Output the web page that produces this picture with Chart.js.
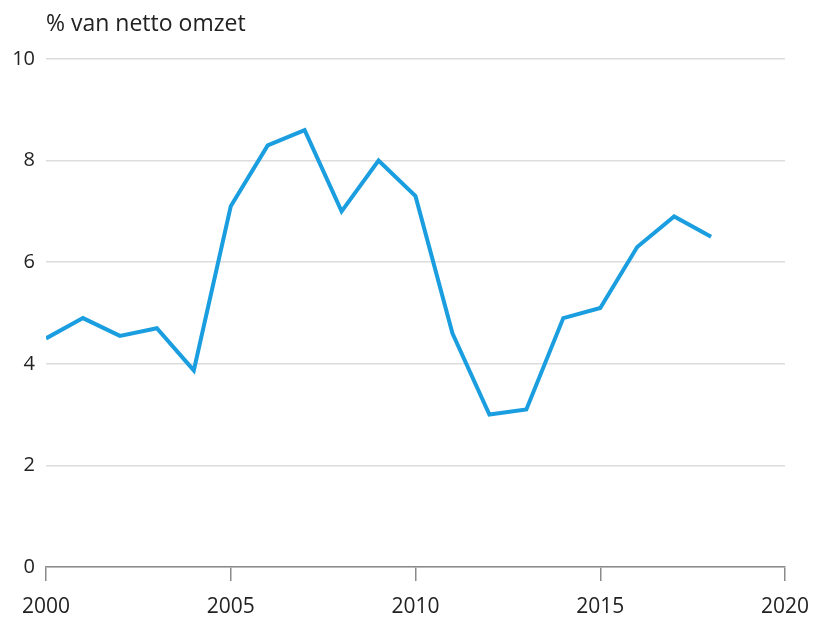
<!DOCTYPE html>
<html>
<head>
<meta charset="utf-8">
<script src="https://cdn.jsdelivr.net/npm/chart.js@4"></script>
<style>
  html, body { margin: 0; padding: 0; background: #fff; }
  #wrap { width: 815px; height: 619px; position: relative; }
</style>
</head>
<body>
<div id="wrap"><canvas id="grafiek"></canvas></div>
<script>
// jaren en waarden (% van netto omzet)
var jaren = [2000, 2001, 2002, 2003, 2004, 2005, 2006, 2007, 2008, 2009,
             2010, 2011, 2012, 2013, 2014, 2015, 2016, 2017, 2018];
var waarden = [4.5, 4.9, 4.55, 4.7, 3.87, 7.1, 8.3, 8.6, 7.0, 8.0,
               7.3, 4.6, 3.0, 3.1, 4.9, 5.1, 6.3, 6.9, 6.5];
var xTicks = [2000, 2005, 2010, 2015, 2020];
var yTicks = [0, 2, 4, 6, 8, 10];
var titel = "% van netto omzet";

var lettertype = "'Open Sans', 'Noto Sans', sans-serif";

// titel boven de grafiek, uitgelijnd op de linkerrand van het plotgebied
var titelPlugin = {
    id: 'titelPlugin',
    afterDraw: function (chart) {
        var ctx = chart.ctx;
        ctx.save();
        ctx.font = "23px " + lettertype;
        ctx.fillStyle = "#222";
        ctx.textAlign = "left";
        ctx.textBaseline = "middle";
        ctx.fillText(titel, chart.chartArea.left, 24);
        ctx.restore();
    }
};

var ctx = document.getElementById("grafiek").getContext("2d");
var grafiek = new Chart(ctx, {
    type: "line",
    data: {
        datasets: [{
            data: jaren.map(function (j, i) { return { x: j, y: waarden[i] }; }),
            borderColor: "#1a9ee0",
            borderWidth: 4,
            pointRadius: 0,
            tension: 0,
            fill: false
        }]
    },
    options: {
        responsive: true,
        maintainAspectRatio: false,
        animation: false,
        layout: { padding: { top: 59, right: 30, left: 1, bottom: 0 } },
        plugins: {
            legend: { display: false },
            tooltip: { enabled: false }
        },
        scales: {
            x: {
                type: "linear",
                min: 2000,
                max: 2020,
                afterBuildTicks: function (axis) {
                    axis.ticks = xTicks.map(function (v) { return { value: v }; });
                },
                afterFit: function (axis) {
                    axis.height = 52;
                    axis.paddingRight = 0;
                    axis.paddingLeft = 0;
                },
                grid: {
                    drawOnChartArea: false,
                    drawTicks: true,
                    tickLength: 14,
                    color: "#8a8a8a",
                    lineWidth: 1.5
                },
                border: { display: true, color: "#8a8a8a", width: 1.5 },
                ticks: {
                    font: { size: 21, family: lettertype },
                    color: "#222",
                    padding: 13,
                    maxRotation: 0,
                    callback: function (v) { return String(v); }
                }
            },
            y: {
                min: 0,
                max: 10,
                afterBuildTicks: function (axis) {
                    axis.ticks = yTicks.map(function (v) { return { value: v }; });
                },
                afterFit: function (axis) {
                    axis.width = 45;
                },
                grid: {
                    drawTicks: false,
                    color: "#dcdcdc",
                    lineWidth: 1.5
                },
                border: { display: false },
                ticks: {
                    font: { size: 20, family: lettertype },
                    color: "#222",
                    padding: 11
                }
            }
        }
    },
    plugins: [titelPlugin]
});
</script>
</body>
</html>
